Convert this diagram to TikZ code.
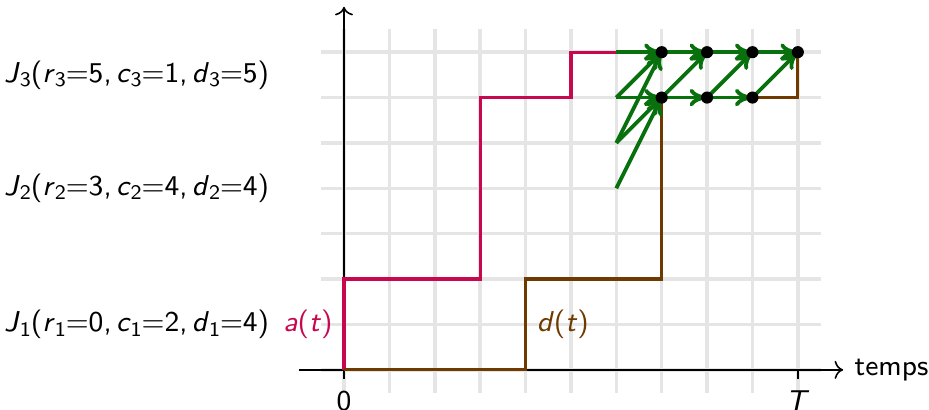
\documentclass[tikz,border=0pt]{standalone}
\usetikzlibrary{arrows.meta}
\definecolor{arr}{RGB}{200,8,78}
\definecolor{dep}{RGB}{110,58,0}
\definecolor{grn}{RGB}{8,112,12}
\newcommand{\vv}[1]{\textit{#1}}
\newcommand{\sbs}[1]{\raisebox{-1.4pt}{\fontsize{6.5}{7}\selectfont #1}}
\newcommand{\cms}{,\kern0.15em}
\tikzset{
  gridline/.style={gray!20, line width=1.1pt},
  axis/.style={->, black, line width=0.5pt},
  arrcurve/.style={arr, line width=1pt},
  depcurve/.style={dep, line width=1pt},
  flow/.style={-{To[length=5.5pt,width=5.5pt]}, grn, line width=1.2pt},
  dot/.style={circle, fill=black, inner sep=0pt, minimum size=3.8pt}
}
\begin{document}
\begin{tikzpicture}[x=0.5cm,y=0.5cm, every node/.style={font=\fontsize{9}{11}\selectfont\sffamily}]
\useasboundingbox (-7.58,-0.88) rectangle (12.89,8.15);
\draw[gridline, step=0.5cm] (-0.5,-0.5) grid (10.5,7.5);
\coordinate (xs) at (-1,0);
\coordinate (xe) at (11,0);
\coordinate (ys) at (0,0);
\coordinate (ye) at (0,8);
\draw[axis] (xs) -- (xe) node[right, black] (temps) {temps};
\draw[axis] (ys) -- (ye);
\draw[thick] (0,0) -- (0,-0.2) node[below] (zero) {0};
\draw[thick] (10,0) -- (10,-0.2) node[below] (T) {\vv{T}};
\draw[arrcurve] (0,0) -- (0,2) -- (3,2) -- (3,6) -- (5,6) -- (5,7) -- (6,7);
\draw[depcurve] (0,0) -- (4,0) -- (4,2) -- (7,2) -- (7,6) -- (10,6) -- (10,7);
\node[left, text=arr] (at) at (0,1) {\vv{a}(\vv{t})};
\node[right, text=dep] (dt) at (4,1) {\vv{d}(\vv{t})};
\node[left] (J3) at (-1.4,6.5) {\vv{J}\sbs{3}(\vv{r}\sbs{3}=5\cms\vv{c}\sbs{3}=1\cms\vv{d}\sbs{3}=5)};
\node[left] (J2) at (-1.4,4) {\vv{J}\sbs{2}(\vv{r}\sbs{2}=3\cms\vv{c}\sbs{2}=4\cms\vv{d}\sbs{2}=4)};
\node[left] (J1) at (-1.4,1) {\vv{J}\sbs{1}(\vv{r}\sbs{1}=0\cms\vv{c}\sbs{1}=2\cms\vv{d}\sbs{1}=4)};
\coordinate (s7) at (6,7);
\coordinate (s6) at (6,6);
\coordinate (s5) at (6,5);
\coordinate (s4) at (6,4);
\coordinate (a7) at (7,7);
\coordinate (b7) at (8,7);
\coordinate (c7) at (9,7);
\coordinate (d7) at (10,7);
\coordinate (a6) at (7,6);
\coordinate (b6) at (8,6);
\coordinate (c6) at (9,6);
\draw[flow] (s7) -- (a7);
\draw[flow] (s6) -- (a7);
\draw[flow] (s5) -- (a7);
\draw[flow] (s6) -- (a6);
\draw[flow] (s5) -- (a6);
\draw[flow] (s4) -- (a6);
\draw[flow] (a7) -- (b7);
\draw[flow] (b7) -- (c7);
\draw[flow] (c7) -- (d7);
\draw[flow] (a6) -- (b6);
\draw[flow] (b6) -- (c6);
\draw[flow] (a6) -- (b7);
\draw[flow] (b6) -- (c7);
\draw[flow] (c6) -- (d7);
\foreach \p in {a7,b7,c7,d7,a6,b6,c6} \node[dot] (dot-\p) at (\p) {};
\end{tikzpicture}
\end{document}
